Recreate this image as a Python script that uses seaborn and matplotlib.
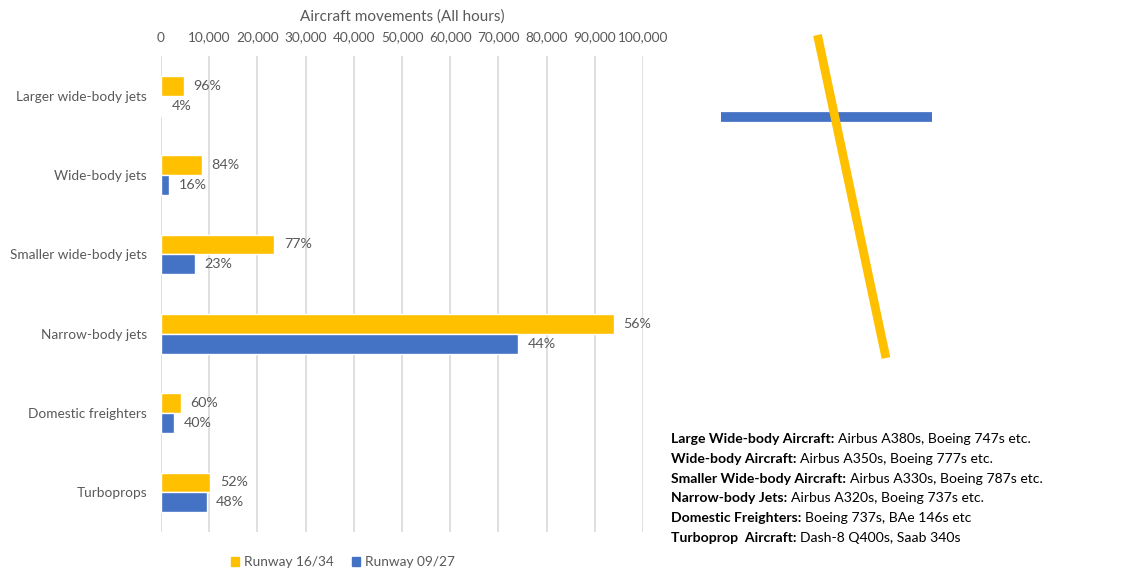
import matplotlib
matplotlib.use("Agg")
import matplotlib.pyplot as plt
import seaborn as sns
import pandas as pd
from matplotlib.patches import Patch
from matplotlib.ticker import FuncFormatter

categories = ["Larger wide-body jets", "Wide-body jets", "Smaller wide-body jets",
              "Narrow-body jets", "Domestic freighters", "Turboprops"]
series = ["Runway 16/34", "Runway 09/27"]
runway_1634 = [4700, 8500, 23500, 93900, 4150, 10200]
runway_0927 = [200, 1600, 7000, 74100, 2700, 9450]
labels_1634 = ["96%", "84%", "77%", "56%", "60%", "52%"]
labels_0927 = ["4%", "16%", "23%", "44%", "40%", "48%"]
xticks = list(range(0, 100001, 10000))

notes_bold = ["Large Wide-body Aircraft:", "Wide-body Aircraft:", "Smaller Wide-body Aircraft:",
              "Narrow-body Jets:", "Domestic Freighters:", "Turboprop  Aircraft:"]
notes_text = ["Airbus A380s, Boeing 747s etc.", "Airbus A350s, Boeing 777s etc.",
              "Airbus A330s, Boeing 787s etc.", "Airbus A320s, Boeing 737s etc.",
              "Boeing 737s, BAe 146s etc", "Dash-8 Q400s, Saab 340s"]

YELLOW = "#FFC000"
BLUE = "#4472C4"
GREY = "#595959"

sns.set_theme(style="white")
plt.rcParams["font.family"] = ["Lato", "DejaVu Sans"]

df = pd.DataFrame({
    "category": categories * 2,
    "runway": [series[0]] * len(categories) + [series[1]] * len(categories),
    "movements": runway_1634 + runway_0927,
})

fig = plt.figure(figsize=(11.31, 5.73), dpi=100)
ax = fig.add_axes([161 / 1131, 1 - 532 / 573, 482 / 1131, 476 / 573])

sns.barplot(data=df, y="category", x="movements", hue="runway", order=categories,
            hue_order=series, palette={series[0]: YELLOW, series[1]: BLUE},
            orient="h", width=0.5, ax=ax, legend=False, saturation=1)

for cont, labs in zip(ax.containers, [labels_1634, labels_0927]):
    ax.bar_label(cont, labels=labs, padding=7, color=GREY, fontsize=10.3)

ax.set_xlim(0, 100000)
ax.set_xticks(xticks)
ax.xaxis.set_major_formatter(FuncFormatter(lambda v, p: f"{int(v):,}"))
ax.xaxis.tick_top()
ax.xaxis.set_label_position("top")
ax.set_xlabel("Aircraft movements (All hours)", color=GREY, fontsize=11, labelpad=8)
ax.set_ylabel("")
ax.tick_params(axis="x", length=0, pad=9, labelsize=9.8, labelcolor=GREY)
ax.tick_params(axis="y", length=0, pad=10, labelsize=9.8, labelcolor=GREY)
ax.grid(axis="x", color="#D9D9D9", linewidth=1.2)
ax.set_axisbelow(True)
for s in ax.spines.values():
    s.set_visible(False)

handles = [Patch(color=YELLOW, label=series[0]), Patch(color=BLUE, label=series[1])]
fig.legend(handles=handles, loc="center", bbox_to_anchor=(343 / 1131, 1 - 562 / 573),
           ncol=2, frameon=False, handlelength=0.6, handleheight=0.6, handletextpad=0.4,
           columnspacing=1.3, labelcolor=GREY, fontsize=9.8)

# Runway diagram
dax = fig.add_axes([0, 0, 1, 1])
dax.set_xlim(0, 1131)
dax.set_ylim(573, 0)
dax.axis("off")
dax.plot([721, 932], [117, 117], color=BLUE, lw=7, solid_capstyle="butt")
dax.plot([817.5, 886], [35, 358], color=YELLOW, lw=6.3, solid_capstyle="butt")

# Notes text block
renderer = fig.canvas.get_renderer()
baselines = [443, 463, 483, 502.5, 522, 542]
for b, t, yb in zip(notes_bold, notes_text, baselines):
    tb = fig.text(671 / 1131, 1 - yb / 573, b, fontsize=10.1, fontweight="bold",
                  color="black", va="baseline", ha="left")
    ext = tb.get_window_extent(renderer)
    fig.text((ext.x1 + 4) / 1131, 1 - yb / 573, t, fontsize=10.1, color="black",
             va="baseline", ha="left")

fig.savefig("out.png", dpi=100)
